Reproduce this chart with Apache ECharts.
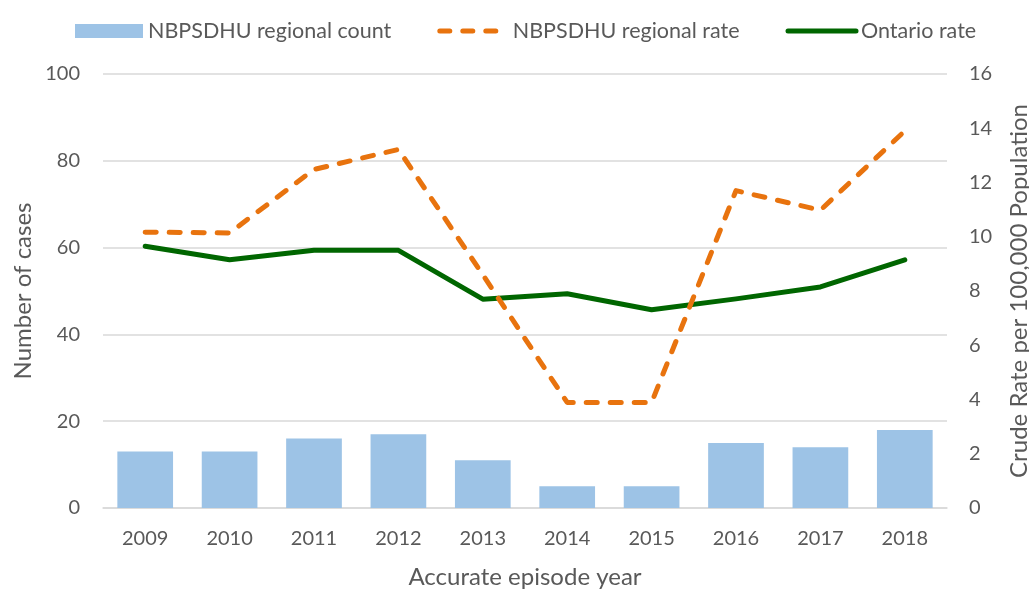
<!DOCTYPE html>
<html>
<head>
<meta charset="utf-8">
<script src="https://cdn.jsdelivr.net/npm/echarts@6/dist/echarts.min.js"></script>
<style>
html,body{margin:0;padding:0;background:#fff;}
#chart{width:1029px;height:589px;}
</style>
</head>
<body>
<div id="chart"></div>
<script>
const years = ['2009','2010','2011','2012','2013','2014','2015','2016','2017','2018'];
const regionalCount = [13, 13, 16, 17, 11, 5, 5, 15, 14, 18];
const regionalRate = [10.17, 10.14, 12.48, 13.22, 8.6, 3.89, 3.89, 11.7, 10.98, 13.9];
const ontarioRate = [9.65, 9.15, 9.5, 9.5, 7.7, 7.9, 7.31, 7.71, 8.15, 9.15];
const leftTicks = {min: 0, max: 100, interval: 20};
const rightTicks = {min: 0, max: 16, interval: 2};

const FONT = 'Lato';
const TXT = '#595959';
const ORANGE = '#E8730E';
const GREEN = '#006600';
const chart = echarts.init(document.getElementById('chart'), null, {renderer: 'canvas'});
chart.setOption({
  animation: false,
  backgroundColor: '#ffffff',
  textStyle: {fontFamily: FONT, color: TXT},
  legend: {
    left: 70, top: 15,
    itemWidth: 68, itemHeight: 14, itemGap: 46,
    textStyle: {fontFamily: FONT, fontSize: 21.5, color: TXT},
    data: [
      {name: 'NBPSDHU regional count', icon: 'rect'},
      {name: 'NBPSDHU regional rate',
       itemStyle: {opacity: 0},
       lineStyle: {color: ORANGE, width: 5, type: [10, 13], cap: 'round', opacity: 1}},
      {name: 'Ontario rate',
       itemStyle: {opacity: 0},
       lineStyle: {color: GREEN, width: 5, cap: 'round', opacity: 1}}
    ]
  },
  grid: {left: 103, right: 82, top: 74, bottom: 81, containLabel: false, outerBoundsMode: 'none'},
  xAxis: {
    type: 'category',
    data: years,
    name: 'Accurate episode year',
    nameLocation: 'middle',
    nameGap: 57,
    nameMoveOverlap: false,
    nameTextStyle: {fontFamily: FONT, fontSize: 24, color: TXT},
    axisLine: {lineStyle: {color: '#d9d9d9', width: 1.5}},
    axisTick: {show: false},
    axisLabel: {fontFamily: FONT, fontSize: 20, color: TXT, margin: 21}
  },
  yAxis: [
    {
      type: 'value',
      min: leftTicks.min, max: leftTicks.max, interval: leftTicks.interval,
      name: 'Number of cases',
      nameLocation: 'middle',
      nameRotate: 90,
      nameGap: 68,
      nameMoveOverlap: false,
      nameTextStyle: {fontFamily: FONT, fontSize: 24, color: TXT},
      axisLine: {show: false},
      axisTick: {show: false},
      axisLabel: {fontFamily: FONT, fontSize: 20, color: TXT, margin: 23},
      splitLine: {lineStyle: {color: '#d9d9d9', width: 1.5}}
    },
    {
      type: 'value',
      position: 'right',
      min: rightTicks.min, max: rightTicks.max, interval: rightTicks.interval,
      name: 'Crude Rate per 100,000 Population',
      nameLocation: 'middle',
      nameRotate: 90,
      nameGap: 60,
      nameMoveOverlap: false,
      nameTextStyle: {fontFamily: FONT, fontSize: 24, color: TXT},
      axisLine: {show: false},
      axisTick: {show: false},
      axisLabel: {fontFamily: FONT, fontSize: 20, color: TXT, margin: 22},
      splitLine: {show: false}
    }
  ],
  series: [
    {
      name: 'NBPSDHU regional count',
      type: 'bar',
      yAxisIndex: 0,
      data: regionalCount,
      barCategoryGap: '34%',
      itemStyle: {color: '#9DC3E6'}
    },
    {
      name: 'NBPSDHU regional rate',
      type: 'line',
      yAxisIndex: 1,
      data: regionalRate,
      symbol: 'none',
      itemStyle: {color: ORANGE},
      lineStyle: {color: ORANGE, width: 5, type: [11, 13], cap: 'round', join: 'round'},
      z: 3
    },
    {
      name: 'Ontario rate',
      type: 'line',
      yAxisIndex: 1,
      data: ontarioRate,
      symbol: 'none',
      itemStyle: {color: GREEN},
      lineStyle: {color: GREEN, width: 5, cap: 'round', join: 'round'},
      z: 2
    }
  ]
});
</script>
</body>
</html>
